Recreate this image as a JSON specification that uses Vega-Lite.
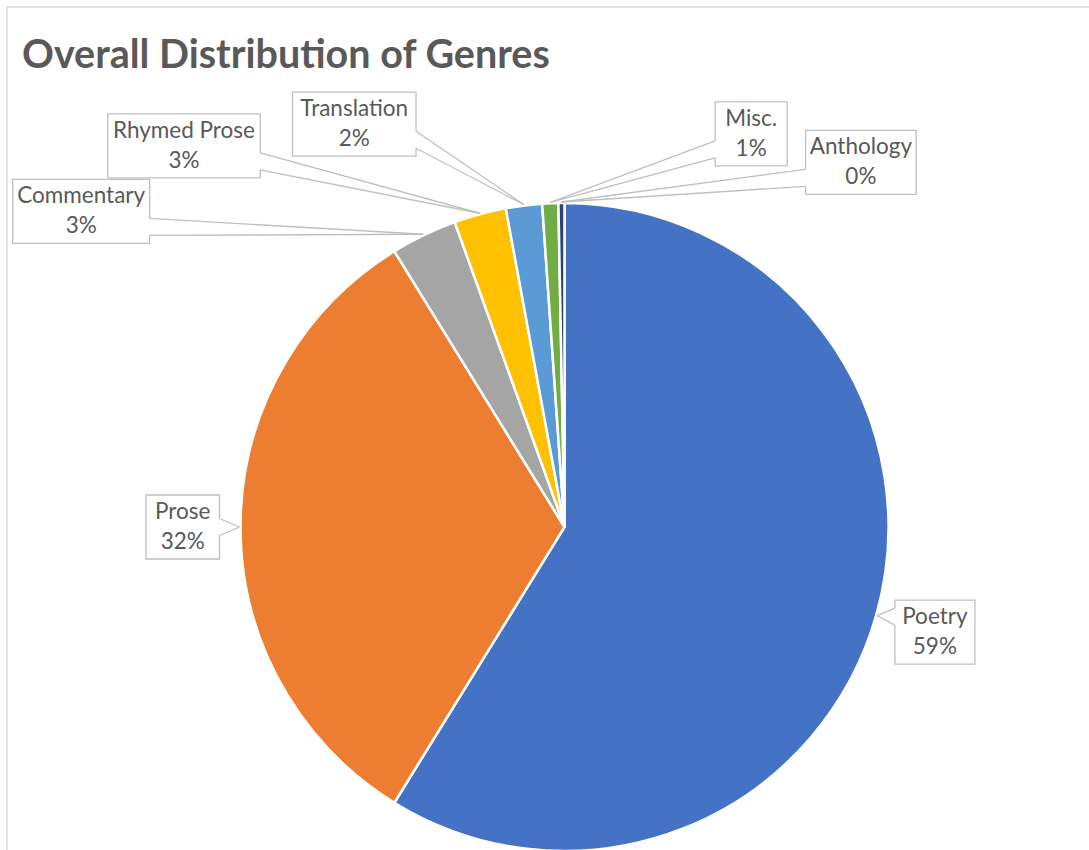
{
  "$schema": "https://vega.github.io/schema/vega-lite/v6.json",
  "width": 1082,
  "height": 843,
  "autosize": {"type": "none"},
  "padding": {"left": 7, "top": 7, "right": 0, "bottom": 0},
  "background": "white",
  "config": {"view": {"stroke": null}},
  "title": {
    "text": "Overall Distribution of Genres",
    "anchor": "start",
    "frame": "group",
    "orient": "top",
    "offset": -40,
    "dx": 15,
    "dy": 61,
    "baseline": "alphabetic",
    "font": "Lato",
    "fontSize": 39.5,
    "fontWeight": "bold",
    "color": "#595959"
  },
  "data": {
    "values": [
      {"genre": "Poetry", "value": 58.8},
      {"genre": "Prose", "value": 32.4},
      {"genre": "Commentary", "value": 3.3},
      {"genre": "Rhymed Prose", "value": 2.6},
      {"genre": "Translation", "value": 1.8},
      {"genre": "Misc.", "value": 0.8},
      {"genre": "Anthology", "value": 0.3}
    ]
  },
  "transform": [
    {"window": [{"op": "row_number", "as": "idx"}]},
    {"joinaggregate": [{"op": "sum", "field": "value", "as": "total"}]},
    {"stack": "value", "groupby": [], "sort": [{"field": "idx", "order": "ascending"}], "as": ["s0", "s1"]},
    {"calculate": "PI * (datum.s0 + datum.s1) / datum.total", "as": "mid"},
    {"calculate": "format(datum.value / datum.total, '.0%')", "as": "pct"},
    {"calculate": "datum.genre + '\\n' + datum.pct", "as": "label"},
    {"calculate": "datum.value / datum.total >= 0.1", "as": "big"},
    {"calculate": "datum.idx - 5.5", "as": "d"},
    {"calculate": "abs(datum.d)", "as": "ad"},
    {"calculate": "length(replace(datum.genre, regexp('[^iltfrj. ]', 'g'), ''))", "as": "nNarrow"},
    {"calculate": "length(replace(datum.genre, regexp('[^mMwW]', 'g'), ''))", "as": "nWide"},
    {"calculate": "11.5 * (length(datum.genre) - datum.nNarrow - datum.nWide) + 6.5 * datum.nNarrow + 19 * datum.nWide", "as": "textW"},
    {"calculate": "(datum.textW + (datum.big ? 21 : 17)) / 650", "as": "hw"},
    {"calculate": "datum.big ? datum.mid : (datum.d < 0 ? -(16.8 + 22.9 * datum.ad - 2.75 * datum.ad * datum.ad) : 18.55 + 13.7 * datum.ad) * PI / 180", "as": "la"},
    {"calculate": "datum.big ? 1 + datum.hw + 20 / 325 : (datum.d < 0 ? 1.216 + 0.399 * datum.ad - 0.07 * datum.ad * datum.ad : 1.2855 + 0.107 * datum.ad)", "as": "lr"},
    {"calculate": "datum.lr * sin(datum.la)", "as": "lx"},
    {"calculate": "datum.lr * cos(datum.la)", "as": "ly"},
    {"calculate": "datum.lx - datum.hw", "as": "bx0"},
    {"calculate": "datum.lx + datum.hw", "as": "bx1"},
    {"calculate": "datum.ly - 32 / 325", "as": "by0"},
    {"calculate": "datum.ly + 32 / 325", "as": "by1"},
    {"calculate": "sin(datum.mid)", "as": "tx"},
    {"calculate": "cos(datum.mid)", "as": "ty"},
    {"calculate": "datum.tx < datum.lx ? datum.bx0 : datum.bx1", "as": "ex"},
    {"calculate": "datum.ly + clamp(datum.ty - datum.ly, -15.5 / 325, 15.5 / 325)", "as": "bc"},
    {"calculate": "datum.bc + 8.5 / 325", "as": "ya"},
    {"calculate": "datum.bc - 8.5 / 325", "as": "yb"}
  ],
  "layer": [
    {
      "transform": [{"filter": "datum.idx == 1"}],
      "mark": {"type": "rule", "color": "#D9D9D9", "strokeWidth": 1.3},
      "encoding": {
        "y": {"datum": 1.6, "type": "quantitative", "scale": {"domain": [-0.993846, 1.6], "nice": false, "zero": false}, "axis": null}
      }
    },
    {
      "transform": [{"filter": "datum.idx == 1"}],
      "mark": {"type": "rule", "color": "#D9D9D9", "strokeWidth": 1.3},
      "encoding": {
        "x": {"datum": -1.715385, "type": "quantitative", "scale": {"domain": [-1.715385, 1.613846], "nice": false, "zero": false}, "axis": null}
      }
    },
    {
      "mark": {"type": "arc", "outerRadius": 324, "stroke": "white", "strokeWidth": 2.5},
      "encoding": {
        "x": {"datum": 0, "type": "quantitative", "scale": {"domain": [-1.715385, 1.613846], "nice": false, "zero": false}, "axis": null},
        "y": {"datum": 0, "type": "quantitative", "scale": {"domain": [-0.993846, 1.6], "nice": false, "zero": false}, "axis": null},
        "theta": {"field": "value", "type": "quantitative", "stack": true},
        "order": {"field": "idx", "type": "quantitative", "sort": "ascending"},
        "color": {
          "field": "genre",
          "type": "nominal",
          "legend": null,
          "scale": {
            "domain": ["Poetry", "Prose", "Commentary", "Rhymed Prose", "Translation", "Misc.", "Anthology"],
            "range": ["#4472C4", "#ED7D31", "#A5A5A5", "#FFC000", "#5B9BD5", "#70AD47", "#264478"]
          }
        }
      }
    },
    {
      "mark": {"type": "rect", "fill": "white", "stroke": "#BFBFBF", "strokeWidth": 1.3},
      "encoding": {
        "x": {"field": "bx0", "type": "quantitative", "scale": {"domain": [-1.715385, 1.613846], "nice": false, "zero": false}, "axis": null},
        "x2": {"field": "bx1"},
        "y": {"field": "by0", "type": "quantitative", "scale": {"domain": [-0.993846, 1.6], "nice": false, "zero": false}, "axis": null},
        "y2": {"field": "by1"}
      }
    },
    {
      "mark": {"type": "rule", "color": "white", "strokeWidth": 2.5},
      "encoding": {
        "x": {"field": "ex", "type": "quantitative", "scale": {"domain": [-1.715385, 1.613846], "nice": false, "zero": false}, "axis": null},
        "x2": {"field": "ex"},
        "y": {"field": "ya", "type": "quantitative", "scale": {"domain": [-0.993846, 1.6], "nice": false, "zero": false}, "axis": null},
        "y2": {"field": "yb"}
      }
    },
    {
      "mark": {"type": "rule", "color": "#BFBFBF", "strokeWidth": 1.3},
      "encoding": {
        "x": {"field": "ex", "type": "quantitative", "scale": {"domain": [-1.715385, 1.613846], "nice": false, "zero": false}, "axis": null},
        "x2": {"field": "tx"},
        "y": {"field": "ya", "type": "quantitative", "scale": {"domain": [-0.993846, 1.6], "nice": false, "zero": false}, "axis": null},
        "y2": {"field": "ty"}
      }
    },
    {
      "mark": {"type": "rule", "color": "#BFBFBF", "strokeWidth": 1.3},
      "encoding": {
        "x": {"field": "ex", "type": "quantitative", "scale": {"domain": [-1.715385, 1.613846], "nice": false, "zero": false}, "axis": null},
        "x2": {"field": "tx"},
        "y": {"field": "yb", "type": "quantitative", "scale": {"domain": [-0.993846, 1.6], "nice": false, "zero": false}, "axis": null},
        "y2": {"field": "ty"}
      }
    },
    {
      "mark": {"type": "text", "font": "Lato", "fontSize": 22.5, "color": "#595959", "lineBreak": "\n", "lineHeight": 30, "align": "center", "baseline": "middle", "dy": -15},
      "encoding": {
        "x": {"field": "lx", "type": "quantitative", "scale": {"domain": [-1.715385, 1.613846], "nice": false, "zero": false}, "axis": null},
        "y": {"field": "ly", "type": "quantitative", "scale": {"domain": [-0.993846, 1.6], "nice": false, "zero": false}, "axis": null},
        "text": {"field": "label", "type": "nominal"}
      }
    }
  ]
}
